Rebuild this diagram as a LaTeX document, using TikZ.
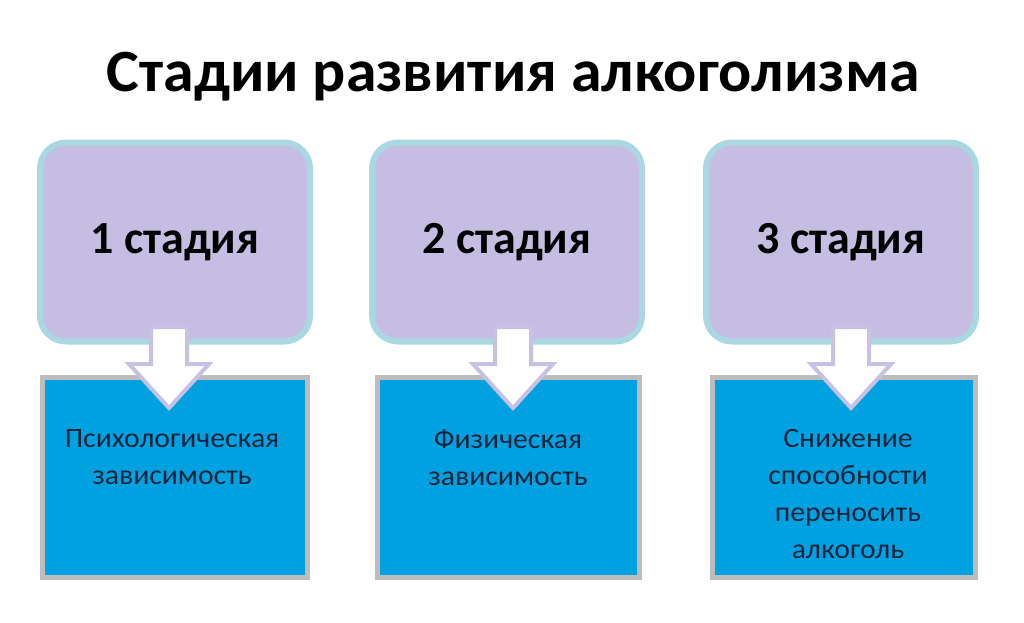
\documentclass[tikz,border=0pt]{standalone}
\usepackage{fontspec}
\setmainfont{Carlito}
\usetikzlibrary{calc}
\definecolor{lav}{HTML}{C6BEE2}
\definecolor{lavedge}{HTML}{A9D7E2}
\definecolor{boxblue}{HTML}{00A1E1}
\definecolor{boxedge}{HTML}{BDBDBD}
\definecolor{arrowedge}{HTML}{C9C1E3}
\definecolor{txtdark}{HTML}{14233A}
\tikzset{
  stagebox/.style={draw=lavedge, line width=6pt, fill=lav, rounded corners=26pt,
    minimum width=270pt, minimum height=199pt, inner sep=0pt,
    font=\fontsize{46}{50}\selectfont\bfseries, text=black},
  resbox/.style={draw=boxedge, line width=5pt, fill=boxblue,
    minimum height=200pt, inner sep=0pt},
  restext/.style={anchor=north, align=center, text=txtdark, xscale=1.06,
    font=\fontsize{28}{37}\selectfont},
  bigarrow/.style={draw=arrowedge, line width=4pt, fill=white, line join=miter},
}
\newcommand{\downarrowshape}[2]{%
  \draw[bigarrow] ($(#1)+(-18,-18)$) -- ($(#1)+(18,-18)$) -- ($(#1)+(18,19)$)
    -- ($(#1)+(40,19)$) -- ($(#2)$) -- ($(#1)+(-40,19)$) -- ($(#1)+(-18,19)$) -- cycle;}
\begin{document}
\begin{tikzpicture}[x=1pt,y=-1pt]
\useasboundingbox (0,0) rectangle (1024,622);
\node[font=\fontsize{60}{66}\selectfont\bfseries, xscale=1.03] (title) at (513,77) {Стадии развития алкоголизма};

\node[resbox, minimum width=265pt] (r1) at (175,477) {};
\node[resbox, minimum width=262pt] (r2) at (508,477) {};
\node[resbox, minimum width=263pt] (r3) at (844,477) {};

\node[stagebox] (s1) at (175,242) {1 стадия};
\node[stagebox] (s2) at (507,242) {2 стадия};
\node[stagebox] (s3) at (841,242) {3 стадия};

\coordinate (a1) at (169,345);
\coordinate (t1) at (169,408);
\coordinate (a2) at (513,345);
\coordinate (t2) at (513,408);
\coordinate (a3) at (851,345);
\coordinate (t3) at (851,408);
\downarrowshape{a1}{t1}
\downarrowshape{a2}{t2}
\downarrowshape{a3}{t3}

\node[restext] (l1) at (172,426) {Психологическая\\зависимость};
\node[restext] (l2) at (508,426) {Физическая\\зависимость};
\node[restext] (l3) at (848,426) {Снижение\\способности\\переносить\\алкоголь};
\end{tikzpicture}
\end{document}
